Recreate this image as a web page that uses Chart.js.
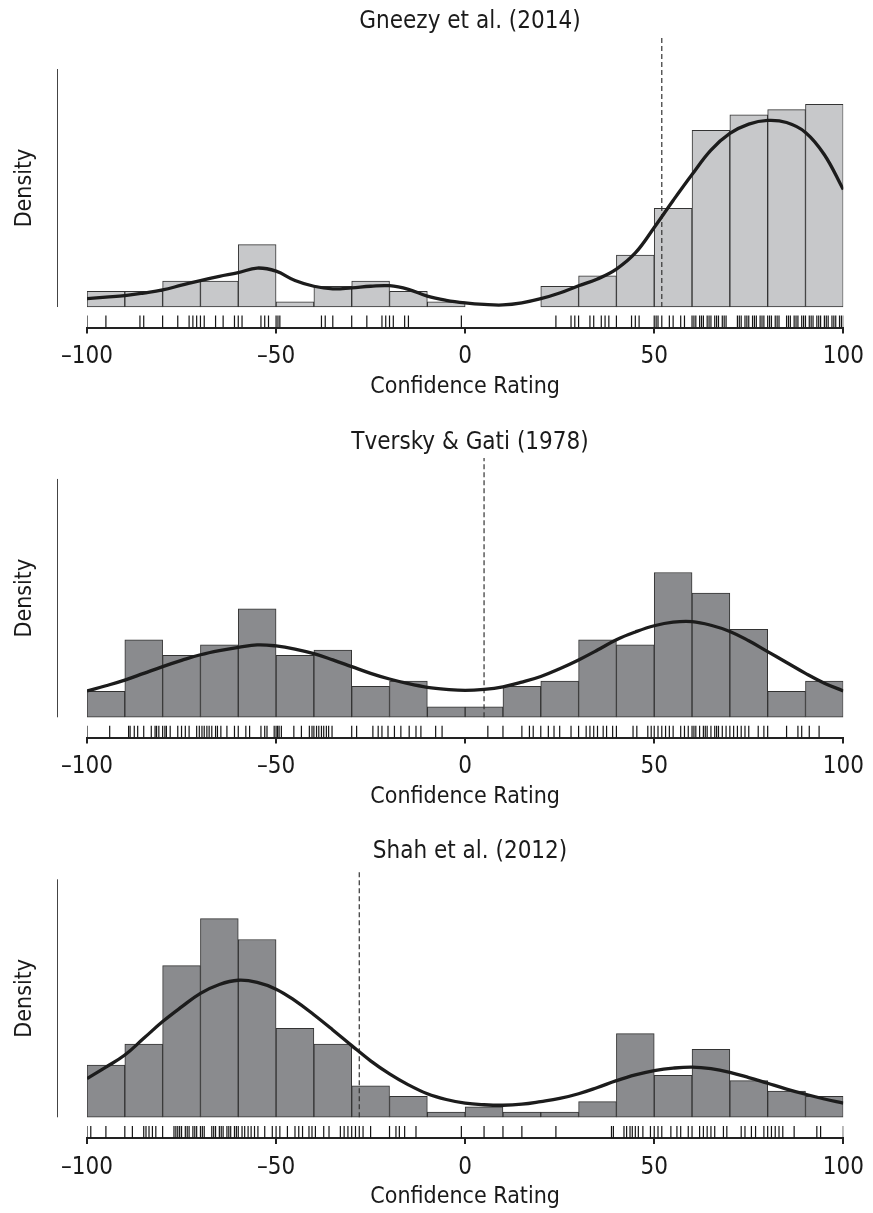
<!DOCTYPE html>
<html><head><meta charset="utf-8">
<script src="https://cdn.jsdelivr.net/npm/chart.js@4"></script>
<style>
html,body{margin:0;padding:0;background:#fff;}
body{width:873px;height:1213px;position:relative;overflow:hidden;}
canvas{position:absolute;left:0;display:block;}
</style></head><body>
<canvas id="c1" width="873" height="410" style="top:0px;width:873px;height:410px"></canvas>
<canvas id="c2" width="873" height="410" style="top:410px;width:873px;height:410px"></canvas>
<canvas id="c3" width="873" height="393" style="top:820px;width:873px;height:393px"></canvas>
<script>
// ---------- data ----------
const titles = ['Gneezy et al. (2014)', 'Tversky & Gati (1978)', 'Shah et al. (2012)'];
const xTicks = [-100, -50, 0, 50, 100];
const binCenters = [-95,-85,-75,-65,-55,-45,-35,-25,-15,-5,5,15,25,35,45,55,65,75,85,95];

const gneezyCounts  = [3,3,5,5,12,1,4,5,3,1,0,0,4,6,10,19,34,37,38,39];
const tverskyCounts = [5,15,12,14,21,12,13,6,7,2,2,6,7,15,14,28,24,17,5,7];
const shahCounts    = [10,14,29,38,34,17,14,6,4,1,2,1,1,3,16,8,13,7,5,4];

const curveX = [-100,-95,-90,-85,-80,-75,-70,-65,-60,-55,-50,-45,-40,-35,-30,-25,-20,-15,-10,-5,0,
                5,10,15,20,25,30,35,40,45,50,55,60,65,70,75,80,85,90,95,100];
const gneezyCurve  = [1.6,1.9,2.2,2.7,3.3,4.2,5.1,5.9,6.6,7.5,6.9,5.1,4.0,3.5,3.7,4.0,4.1,3.4,2.1,1.3,0.8,
                      0.5,0.4,0.8,1.6,2.7,4.1,5.4,7.3,10.4,15.3,20.5,25.5,30.2,33.4,35.2,35.9,35.5,33.6,29.3,22.6];
const tverskyCurve = [5.1,6.1,7.2,8.5,9.8,11.0,12.1,12.9,13.5,14.0,13.8,13.2,12.3,11.1,9.8,8.5,7.4,6.5,5.8,5.4,5.2,
                      5.4,5.9,6.8,7.9,9.4,11.1,13.0,15.0,16.5,17.7,18.4,18.5,17.8,16.6,14.8,12.7,10.6,8.5,6.6,5.1];
const shahCurve    = [7.4,9.6,11.9,15.1,18.3,21.1,23.7,25.4,26.2,25.8,24.5,22.3,19.6,16.7,13.7,10.8,8.3,6.2,4.5,3.4,2.7,
                      2.4,2.3,2.5,3.0,3.6,4.5,5.7,7.0,8.1,8.9,9.4,9.6,9.3,8.6,7.6,6.5,5.4,4.4,3.5,2.7];

const markerValues = [52, 5, -28];

const gneezyRug = [-100,-95,-86,-85,-80,-76,-73,-72,-71,-70,-69,-66,-64,-61,-60,-59,-54,-53,-52,-50,-49.5,-49,
  -38,-37,-35,-30,-26,-22,-21,-20,-19,-16,-15,-1,24,28,29,30,33,34,36,37,38,40,44,45,46,50,50.5,51,52,54,55,57,58,
  60,60.5,61,62,62.5,63,64,64.5,65,66,66.5,67,68,68.5,69,72,72.5,73,74,74.5,75,76,76.5,77,78,78.5,79,80,80.5,81,82,82.5,83,
  85,85.5,86,87,87.5,88,89,89.5,90,91,91.5,92,93,93.5,94,95,95.5,96,97,97.5,98,99,99.5,100];
const tverskyRug = [-100,-94,-89,-88.6,-87.5,-86.6,-85,-83,-82,-81.6,-81,-80,-79.4,-79,-78,-76,-75,-74,-73,-71,-70.3,
  -69.6,-69,-68.3,-67.7,-67,-66,-65.5,-64.6,-63,-61,-60,-58,-57,-54,-53,-52.4,-50.5,-50,-49.6,-49.2,-48.6,-45.3,-43.3,
  -41.2,-40.5,-40,-39.3,-38.7,-38,-37.4,-36.7,-36.1,-35.2,-30,-28.7,-24.4,-23,-22,-20.4,-18.7,-17,-14.8,-13,-11.7,-7.8,
  -6.1,6,10,15,17,18,20,22,23.5,25,28,30,32,33,34,35,36.5,37.4,39,40,44.4,45.4,48.3,49.2,50,51,52,53,54,55,57,58,59,60,
  60.5,61,62,63,63.5,64,65,66,66.5,67,68,69,70,71,72,73,74,75,77.5,79,80,85,88,89,91,93.6];
const shahRug = [-100,-99,-95,-90,-88,-85,-84.4,-83.6,-82.7,-81.8,-80,-77,-76.5,-76,-75.5,-75,-74,-73.5,-73,-72,-71.5,
  -71,-70,-69.5,-69,-67,-66.5,-66,-65,-64.5,-64,-63,-62.5,-62,-61,-60.5,-60,-59,-58.3,-57.4,-56.6,-55.7,-54.8,-53,-51,
  -50,-49,-47,-45,-44,-43,-41.3,-40.5,-39.6,-37.4,-36,-33,-32,-31,-30,-29,-28,-27,-25,-20,-18.3,-17.4,-16,-13,-1,5,10,
  15,24,38.7,39.2,42,42.7,43.6,44.2,45,45.8,47,49,50,51,52,54.4,56,57,59,60,62,63,64,65,66,68.3,69.2,73,74,75.7,76.8,
  79,80,81,82,83,84,87,93,94,100];

// ---------- styling / layout ----------
const FONT = "'Liberation Sans Narrow','Arial Narrow','DejaVu Sans Condensed',sans-serif";
Chart.defaults.font.family = FONT;
Chart.defaults.font.size = 24;
Chart.defaults.color = '#1a1a1a';

const panels = [
  {id:'c1', counts:gneezyCounts, curve:gneezyCurve, rug:gneezyRug, fill:'#c7c8ca',
   yMin:-3.94, yMax:52.27, axisTop:45.8, tPadTop:7.6, tPadBot:-1, padBot:9.2},
  {id:'c2', counts:tverskyCounts, curve:tverskyCurve, rug:tverskyRug, fill:'#8a8b8e',
   yMin:-3.91, yMax:50.15, axisTop:46.1, tPadTop:18.6, tPadBot:0.6, padBot:9.2},
  {id:'c3', counts:shahCounts, curve:shahCurve, rug:shahRug, fill:'#8a8b8e',
   yMin:-3.96, yMax:46.9, axisTop:45.5, tPadTop:17.6, tPadBot:5.6, padBot:1.7}
];

const sideAxis = {
  id: 'sideAxis',
  afterDraw(chart, args, opts) {
    const {ctx, chartArea, scales: {y}} = chart;
    const x = Math.round(chartArea.left - 30) + 0.5;
    const y0 = y.getPixelForValue(0), y1 = y.getPixelForValue(opts.top);
    ctx.save();
    ctx.strokeStyle = '#444'; ctx.lineWidth = 1;
    ctx.beginPath(); ctx.moveTo(x, y0); ctx.lineTo(x, y1); ctx.stroke();
    ctx.translate(31, (y0 + y1) / 2);
    ctx.rotate(-Math.PI / 2);
    ctx.font = '23px ' + FONT;
    ctx.fillStyle = '#1a1a1a';
    ctx.textAlign = 'center'; ctx.textBaseline = 'alphabetic';
    ctx.fillText('Density', 0, 0);
    ctx.restore();
  }
};

const fmt = v => (v < 0 ? '\u2013' + Math.abs(v) : String(v));

panels.forEach((p, i) => {
  new Chart(document.getElementById(p.id), {
    type: 'scatter',
    data: {
      datasets: [
        {type:'bar', data: binCenters.map((c, k) => ({x:c, y:p.counts[k]})),
         backgroundColor:p.fill, borderColor:'#333', borderWidth:1, borderSkipped:false,
         barPercentage:1, categoryPercentage:1, grouped:false, order:3},
        {type:'line', data:[{x:markerValues[i], y:0},{x:markerValues[i], y:p.yMax}],
         borderColor:'#333', borderWidth:1.2, borderDash:[5,3], pointRadius:0, order:2},
        {type:'line', data: curveX.map((x, k) => ({x, y:p.curve[k]})),
         borderColor:'#1c1c1c', borderWidth:3.3, pointRadius:0, tension:0.4, order:1},
        {type:'scatter', data: p.rug.map(v => ({x:v, y:-2.8})),
         pointStyle:'line', pointRotation:90, pointRadius:6, pointBorderWidth:1.2,
         pointBorderColor:'#151515', borderColor:'#151515', showLine:false, order:4}
      ]
    },
    options: {
      responsive:false, animation:false, events:[],
      layout:{padding:{left:87, right:20, top:0, bottom:p.padBot}},
      plugins:{
        legend:{display:false}, tooltip:{enabled:false},
        title:{display:true, text:titles[i], color:'#1a1a1a',
               font:{size:24, weight:'normal', family:FONT, lineHeight:1.2},
               padding:{top:p.tPadTop, bottom:p.tPadBot}},
        sideAxis:{top:p.axisTop}
      },
      scales:{
        x:{type:'linear', min:-100, max:100, offset:false,
           afterBuildTicks: s => { s.ticks = xTicks.map(v => ({value:v})); },
           ticks:{callback:fmt, padding:9.1, color:'#1a1a1a', font:{size:24, lineHeight:1.2}, maxRotation:0},
           grid:{display:true, drawOnChartArea:false, drawTicks:true, tickLength:6, color:'#222', lineWidth:2, offset:false},
           border:{display:true, color:'#222', width:2},
           title:{display:true, text:'Confidence Rating', color:'#1a1a1a',
                  font:{size:23, lineHeight:1.2}, padding:{top:-7.3, bottom:0}}},
        y:{display:false, min:p.yMin, max:p.yMax}
      }
    },
    plugins:[sideAxis]
  });
});
</script>
</body></html>
